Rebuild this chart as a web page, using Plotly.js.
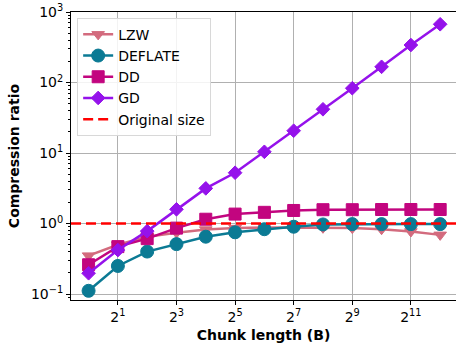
<!DOCTYPE html>
<html>
<head>
<meta charset="utf-8">
<script src="https://cdn.plot.ly/plotly-3.0.1.min.js"></script>
<style>html,body{margin:0;padding:0;background:#fff;}#chart{width:456px;height:347px;}</style>
</head>
<body>
<div id="chart"></div>
<script>
// Data
const chunkLengths = [1, 2, 4, 8, 16, 32, 64, 128, 256, 512, 1024, 2048, 4096];
const lzw     = [0.35, 0.50, 0.65, 0.74, 0.82, 0.86, 0.88, 0.88, 0.87, 0.86, 0.83, 0.77, 0.69];
const deflate = [0.111, 0.25, 0.40, 0.51, 0.65, 0.75, 0.83, 0.90, 0.97, 0.98, 0.98, 0.98, 0.98];
const dd      = [0.26, 0.47, 0.61, 0.86, 1.15, 1.36, 1.44, 1.53, 1.57, 1.57, 1.58, 1.58, 1.58];
const gd      = [0.197, 0.42, 0.78, 1.59, 3.15, 5.25, 10.4, 20.7, 41.7, 83, 167, 340, 670];
const seriesNames = ['LZW', 'DEFLATE', 'DD', 'GD'];
const xTickExponents = [1, 3, 5, 7, 9, 11];
const originalSize = 1;

const colors = ['#d36b7e', '#0b7a94', '#c2057f', '#9512eb'];
const symbols = ['triangle-down', 'circle', 'square', 'diamond'];
const msizes = [11, 13, 12, 10.5];
const xs = chunkLengths.map(v => Math.log2(v));
const ys = [lzw, deflate, dd, gd];

const traces = ys.map((y, i) => ({
  type: 'scatter', mode: 'lines+markers', name: seriesNames[i],
  x: xs, y: y,
  line: {color: colors[i], width: 2.5},
  marker: {symbol: symbols[i], size: msizes[i], color: colors[i], line: {color: colors[i], width: 1}}
}));

const font = 'DejaVu Sans, sans-serif';
const layout = {
  width: 456, height: 347,
  margin: {l: 71, r: 0, t: 12, b: 47},
  paper_bgcolor: '#fff', plot_bgcolor: '#fff',
  font: {family: font, size: 13, color: '#000'},
  showlegend: true,
  legend: {x: 0.016, y: 0.98, xanchor: 'left', yanchor: 'top',
    bgcolor: 'rgba(255,255,255,0.85)', bordercolor: '#d8d8d8', borderwidth: 1,
    font: {family: font, size: 14}},
  xaxis: {
    range: [-0.6, 12.54], type: 'linear',
    tickvals: xTickExponents,
    ticktext: xTickExponents.map(e => '2<sup>' + e + '</sup>'),
    ticks: 'outside', ticklen: 4, tickcolor: '#000',
    showgrid: true, gridcolor: '#b0b0b0', gridwidth: 1,
    showline: true, linecolor: '#000', linewidth: 1, mirror: true,
    zeroline: false,
    tickfont: {family: font, size: 14},
    title: {text: '<b>Chunk length (B)</b>', font: {family: font, size: 14}, standoff: 6}
  },
  yaxis: {
    type: 'log', range: [-1.085, 3.0],
    tickvals: [0.1, 1, 10, 100, 1000],
    ticktext: ['10<sup>−1</sup>', '10<sup>0</sup>', '10<sup>1</sup>', '10<sup>2</sup>', '10<sup>3</sup>'],
    ticks: 'outside', ticklen: 4, tickcolor: '#000',
    minor: {ticks: 'outside', ticklen: 2, tickcolor: '#000', showgrid: false,
      tickvals: [0.09,0.2,0.3,0.4,0.5,0.6,0.7,0.8,0.9,2,3,4,5,6,7,8,9,20,30,40,50,60,70,80,90,200,300,400,500,600,700,800,900]},
    showgrid: true, gridcolor: '#b0b0b0', gridwidth: 1,
    showline: true, linecolor: '#000', linewidth: 1,
    zeroline: false,
    tickfont: {family: font, size: 14},
    title: {text: '<b>Compression ratio</b>', font: {family: font, size: 14}, standoff: 8}
  },
  shapes: [{
    type: 'line', xref: 'paper', x0: 0, x1: 1, yref: 'y', y0: originalSize, y1: originalSize,
    line: {color: '#ff0000', width: 2.5, dash: '10px,5px'}, layer: 'above',
    showlegend: true, name: 'Original size'
  }]
};

Plotly.newPlot('chart', traces, layout, {displayModeBar: false, staticPlot: true});
</script>
</body>
</html>
